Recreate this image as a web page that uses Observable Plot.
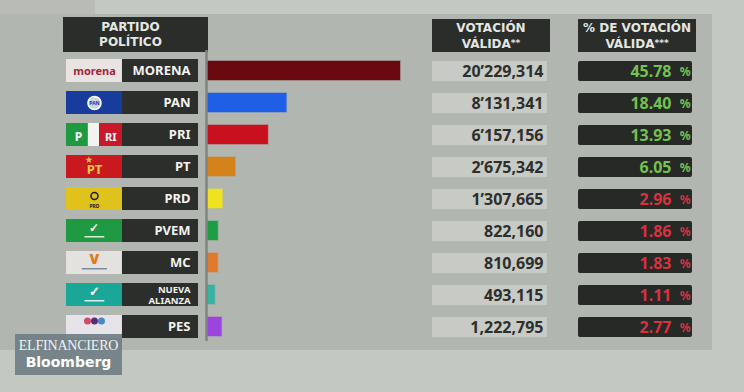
<!DOCTYPE html>
<html>
<head>
<meta charset="utf-8">
<script src="https://cdn.jsdelivr.net/npm/d3@7"></script>
<script src="https://cdn.jsdelivr.net/npm/@observablehq/plot@0.6"></script>
<style>
html,body{margin:0;padding:0;background:#c4c8c2;}
#board{position:relative;width:744px;height:392px;overflow:hidden;font-family:"DejaVu Sans",sans-serif;}
#back{position:absolute;left:0;top:14px;width:712px;height:336px;background:#b2b6b0;}
#corner{position:absolute;left:0;top:0;width:95px;height:14px;background:#b8bbb6;}
.panel{position:absolute;top:0;}
.hdr{position:absolute;background:#2a2d29;color:#e4e6e2;font-weight:700;font-size:12px;line-height:15px;text-align:center;box-sizing:border-box;}
.hdr .st{font-size:9px;vertical-align:2px;}
#logo{position:absolute;left:15px;top:334px;width:107px;height:41px;background:rgba(112,127,134,0.92);text-align:center;color:#eef2f4;}
#logo .ef{font-family:"Liberation Serif",serif;font-size:14px;line-height:15px;padding-top:4px;letter-spacing:-0.2px;}
#logo .bb{font-family:"DejaVu Sans",sans-serif;font-weight:700;font-size:14px;line-height:18px;color:#fff;}
</style>
</head>
<body>
<div id="board">
  <div id="corner"></div>
  <div id="back"></div>
  <div class="hdr" style="left:63px;top:17px;width:145px;height:35px;padding-top:3px;padding-right:10px;">PARTIDO<br>POLÍTICO</div>
  <div class="hdr" style="left:432px;top:19px;width:118px;height:33px;padding-top:2px;">VOTACIÓN<br>VÁLIDA<span class="st">**</span></div>
  <div class="hdr" style="left:578px;top:19px;width:118px;height:33px;padding-top:2px;">% DE VOTACIÓN<br>VÁLIDA<span class="st">***</span></div>
  <div class="panel" id="labels" style="left:66px;"></div>
  <div class="panel" id="bars" style="left:200px;"></div>
  <div class="panel" id="votes" style="left:432px;"></div>
  <div class="panel" id="pcts" style="left:578px;"></div>
  <div id="logo"><div class="ef">ELFINANCIERO</div><div class="bb">Bloomberg</div></div>
</div>
<script>
// ---- data ----
const parties = ["MORENA", "PAN", "PRI", "PT", "PRD", "PVEM", "MC", "NUEVA ALIANZA", "PES"];
const votes = [20229314, 8131341, 6157156, 2675342, 1307665, 822160, 810699, 493115, 1222795];
const voteLabels = ["20’229,314", "8’131,341", "6’157,156", "2’675,342", "1’307,665", "822,160", "810,699", "493,115", "1,222,795"];
const pct = [45.78, 18.40, 13.93, 6.05, 2.96, 1.86, 1.83, 1.11, 2.77];
const barColors = ["#6a0a0e", "#1e5fe6", "#c8101f", "#d4831a", "#f0e21e", "#1d9e45", "#e07a2c", "#35b3a3", "#9b45de"];
const logoColors = ["#e9e4e1", "#173c9c", "#c8182a", "#c9191e", "#dfc31c", "#1f9a42", "#e4e2de", "#1ba797", "#e6e4e9"];

const rows = parties.map((p, i) => ({
  party: p, votes: votes[i], voteLabel: voteLabels[i], pct: pct[i],
  bar: barColors[i], logo: logoColors[i]
}));

// ---- shared layout ----
const H = 392;
const yScale = {type: "band", domain: parties, padding: 0.27, axis: null};
const common = {height: H, margin: 0, marginTop: 47, marginBottom: 42, y: yScale, color: {type: "identity"}};

// logo decorations (styling of the party emblems)
const LC = 0.212;
const logoText = [
  {party: "MORENA", t: "morena", x: LC, dy: 0, size: 11, fill: "#a3263a", w: 700},
  {party: "PAN", t: "PAN", x: LC, dy: 0, size: 5, fill: "#173c9c", w: 700},
  {party: "PRI", t: "P", x: 0.09, dy: 2, size: 12, fill: "#ffffff", w: 700},
  {party: "PRI", t: "RI", x: 0.335, dy: 2, size: 11, fill: "#ffffff", w: 700},
  {party: "PT", t: "PT", x: LC, dy: 3, size: 13, fill: "#f5c842", w: 700},
  {party: "PRD", t: "PRD", x: LC, dy: 7, size: 5, fill: "#222222", w: 700},
  {party: "PVEM", t: "✓", x: LC, dy: -3, size: 12, fill: "#ffffff", w: 700},
  {party: "MC", t: "V", x: LC, dy: -3, size: 14, fill: "#e07a20", w: 900},
  {party: "NUEVA ALIANZA", t: "✓", x: LC, dy: -3, size: 13, fill: "#ffffff", w: 700}
];
const logoDots = [
  {party: "PAN", x: LC, dx: 0, dy: 0, r: 6.5, fill: "#c9d4ec", stroke: "#ffffff", symbol: "circle"},
  {party: "PRD", x: LC, dx: 0, dy: -3, r: 3.5, fill: "none", stroke: "#222222", symbol: "circle"},
  {party: "PT", x: 0.17, dx: 0, dy: -7, r: 2.2, fill: "#f5c842", stroke: "none", symbol: "star"},
  {party: "PES", x: LC, dx: -7, dy: -6, r: 3.5, fill: "#d14a6a", stroke: "none", symbol: "circle"},
  {party: "PES", x: LC, dx: 0, dy: -6, r: 3.5, fill: "#5a2a7a", stroke: "none", symbol: "circle"},
  {party: "PES", x: LC, dx: 7, dy: -6, r: 3.5, fill: "#4a86c6", stroke: "none", symbol: "circle"}
];
// small word-marks under emblems drawn as thin strips
const logoStrips = [
  {party: "PVEM", x1: 0.14, x2: 0.29, fill: "#d6f0dc"},
  {party: "MC", x1: 0.12, x2: 0.31, fill: "#7a8aa0"},
  {party: "NUEVA ALIANZA", x1: 0.14, x2: 0.29, fill: "#d8f2ee"}
];
const priStripes = [
  {party: "PRI", x1: 0, x2: 0.165, fill: "#1e9a40"},
  {party: "PRI", x1: 0.165, x2: 0.25, fill: "#f2f2f0"},
  {party: "PRI", x1: 0.25, x2: 0.424, fill: "#c8182a"}
];
// the two-line name of Nueva Alianza
const naLines = [
  {party: "NUEVA ALIANZA", t: "NUEVA", dy: -5.5},
  {party: "NUEVA ALIANZA", t: "ALIANZA", dy: 6}
];

// ---- party labels panel ----
const labelsPlot = Plot.plot({
  ...common, width: 132,
  x: {domain: [0, 1], axis: null},
  marks: [
    Plot.barX(rows, {x1: 0, x2: 1, y: "party", fill: "#2b2e2b"}),
    Plot.barX(rows, {x1: 0, x2: 0.424, y: "party", fill: "logo"}),
    Plot.barX(priStripes, {x1: "x1", x2: "x2", y: "party", fill: "fill"}),
    Plot.barX(logoStrips, {x1: "x1", x2: "x2", y: "party", fill: "fill", insetTop: 17, insetBottom: 4.5}),
    ...logoDots.map(d => Plot.dot([d], {x: "x", y: "party", r: d.r, symbol: d.symbol, fill: d.fill, stroke: d.stroke, strokeWidth: 1.6, dx: d.dx, dy: d.dy})),
    ...logoText.map(d => Plot.text([d], {x: "x", y: "party", text: "t", fill: d.fill, fontSize: d.size, fontWeight: d.w, dy: d.dy})),
    Plot.text(rows.filter(d => d.party !== "NUEVA ALIANZA"), {y: "party", text: "party", frameAnchor: "right", textAnchor: "end", dx: -8, fill: "#f2f2f0", fontSize: 13, fontWeight: 700}),
    ...naLines.map(d => Plot.text([d], {y: "party", text: "t", frameAnchor: "right", textAnchor: "end", dx: -8, dy: d.dy, fill: "#f2f2f0", fontSize: 9.5, fontWeight: 700}))
  ]
});
document.getElementById("labels").append(labelsPlot);

// ---- bars panel ----
const barsPlot = Plot.plot({
  ...common, width: 220,
  x: {domain: [0, d3.max(votes)], range: [10, 200], axis: null},
  marks: [
    Plot.barX(rows, {x: "votes", y: "party", fill: "bar", insetTop: 2, insetBottom: 2, insetLeft: -3, stroke: "bar", strokeOpacity: 0.35, strokeWidth: 1.5}),
    Plot.ruleX([0], {stroke: "#80847f", strokeWidth: 2.5, dx: -4, insetTop: 3, insetBottom: 9})
  ]
});
document.getElementById("bars").append(barsPlot);

// ---- votes panel ----
const votesPlot = Plot.plot({
  ...common, width: 115,
  x: {domain: [0, 1], axis: null},
  marks: [
    Plot.barX(rows, {x1: 0, x2: 1, y: "party", fill: "#c8cac6", insetTop: 2, insetBottom: 1}),
    Plot.text(rows, {y: "party", text: "voteLabel", frameAnchor: "right", textAnchor: "end", dx: -4, dy: 0.5, fill: "#2d2f2c", fontSize: 16, fontWeight: 700})
  ]
});
document.getElementById("votes").append(votesPlot);

// ---- percent panel ----
const pctColor = d => d.pct >= 3 ? "#74c24e" : "#d8323e";
const pctPlot = Plot.plot({
  ...common, width: 114,
  x: {domain: [0, 1], axis: null},
  marks: [
    Plot.barX(rows, {x1: 0, x2: 1, y: "party", fill: "#262926", insetTop: 2, insetBottom: 1, rx: 2}),
    Plot.text(rows, {y: "party", text: d => d3.format(".2f")(d.pct), frameAnchor: "right", textAnchor: "end", dx: -21, dy: 0.5, fill: pctColor, fontSize: 16, fontWeight: 700}),
    Plot.text(rows, {y: "party", text: () => "%", frameAnchor: "right", textAnchor: "end", dx: -2, dy: 1, fill: pctColor, fontSize: 12, fontWeight: 700})
  ]
});
document.getElementById("pcts").append(pctPlot);
</script>
</body>
</html>
